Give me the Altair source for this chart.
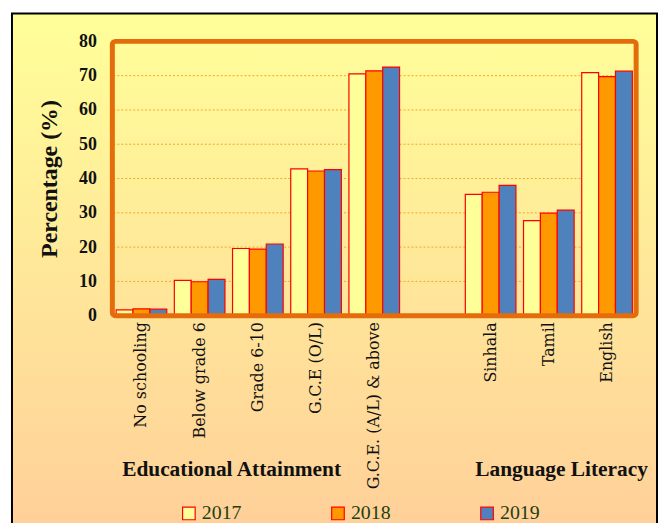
import altair as alt
import pandas as pd

categories = ["No schooling", "Below grade 6", "Grade 6-10", "G.C.E (O/L)",
              "G.C.E. (A/L) & above", "gap", "Sinhala", "Tamil", "English"]
years = ["2017", "2018", "2019"]
v2017 = [1.7, 10.3, 19.6, 42.8, 70.5, None, 35.4, 27.7, 70.9]
v2018 = [2.0, 9.9, 19.4, 42.2, 71.4, None, 36.0, 29.9, 69.7]
v2019 = [1.9, 10.6, 20.9, 42.6, 72.5, None, 38.0, 30.8, 71.3]
colors = ["#FFFF99", "#FF9900", "#4F81BD"]
y_ticks = [0, 10, 20, 30, 40, 50, 60, 70, 80]

rows = []
for i, c in enumerate(categories):
    for y, vals in zip(years, [v2017, v2018, v2019]):
        if vals[i] is not None:
            rows.append({"cat": c, "year": y, "value": vals[i]})
df = pd.DataFrame(rows)

W, H = 527, 276
serif = "Liberation Serif"
serif2 = "DejaVu Serif"

bg = alt.Chart(pd.DataFrame({"a": [0]})).mark_rect(
    fill=alt.Gradient(gradient="linear", x1=0, y1=0, x2=0, y2=1,
                      stops=[alt.GradientStop(color="#FFFF99", offset=0),
                             alt.GradientStop(color="#FFCC99", offset=1)]),
    stroke="black", strokeWidth=2
).encode(x=alt.value(-101), x2=alt.value(548), y=alt.value(-28), y2=alt.value(530))

yaxis = alt.Axis(title="Percentage (%)", values=y_ticks, grid=False, ticks=False, domain=False,
                 zindex=2, labelOverlap=False,
                 labelFont=serif, labelFontSize=18, labelFontWeight="bold", labelColor="#111",
                 labelPadding=16, titleFont=serif, titleFontSize=24, titleFontWeight="bold",
                 titleColor="#111", titlePadding=17)

grid = alt.Chart(pd.DataFrame({"g": y_ticks[1:-1]})).mark_rule(
    color="#F5A623", strokeDash=[2, 2], strokeWidth=1
).encode(y=alt.Y("g:Q", scale=alt.Scale(domain=[0, 80]), axis=yaxis))

bars = alt.Chart(df).mark_bar(stroke="#FF0000", strokeWidth=1.2).encode(
    x=alt.X("cat:N", sort=categories, scale=alt.Scale(domain=categories, paddingInner=0.13, paddingOuter=0.065),
            axis=alt.Axis(title=None, labelAngle=-90, labelFont=serif2, labelFontSize=16,
                          labelColor="#111", labelPadding=6, ticks=False, domain=False, zindex=2,
                          labelExpr="datum.value == 'gap' ? '' : datum.value", labelLimit=300)),
    xOffset=alt.XOffset("year:N", sort=years),
    y=alt.Y("value:Q", scale=alt.Scale(domain=[0, 80]), axis=yaxis),
    fill=alt.Color("year:N", sort=years, scale=alt.Scale(domain=years, range=colors),
                   legend=alt.Legend(title=None, orient="none", legendX=67, legendY=465,
                                     direction="horizontal", symbolType="square", symbolSize=160,
                                     symbolStrokeColor="#FF0000", symbolStrokeWidth=1.2,
                                     labelFont=serif, labelFontSize=20, labelColor="#1E4010",
                                     columnPadding=87, labelOffset=3, symbolOpacity=1, zindex=2)),
)

border = alt.Chart(pd.DataFrame({"a": [0]})).mark_rect(
    fill=None, stroke="#E46C0A", strokeWidth=5, cornerRadius=3
).encode(x=alt.value(0), x2=alt.value(W), y=alt.value(0), y2=alt.value(H))

labels = alt.Chart(pd.DataFrame({"t": ["Educational Attainment", "Language Literacy"],
                                 "px": [120, 452]})).mark_text(
    font=serif, fontSize=21.5, fontWeight="bold", color="#111", baseline="middle"
).encode(text="t:N", x=alt.X("px:Q", scale=None), y=alt.value(431))

chart = alt.layer(bg, grid, bars, border, labels).properties(
    width=W, height=H,
    autosize=alt.AutoSizeParams(type="none"),
    padding={"left": 105, "top": 32, "right": 22, "bottom": 207},
    background="white",
).configure_view(stroke=None)

chart.save("out.html", embed_options={"renderer": "svg", "actions": False})
